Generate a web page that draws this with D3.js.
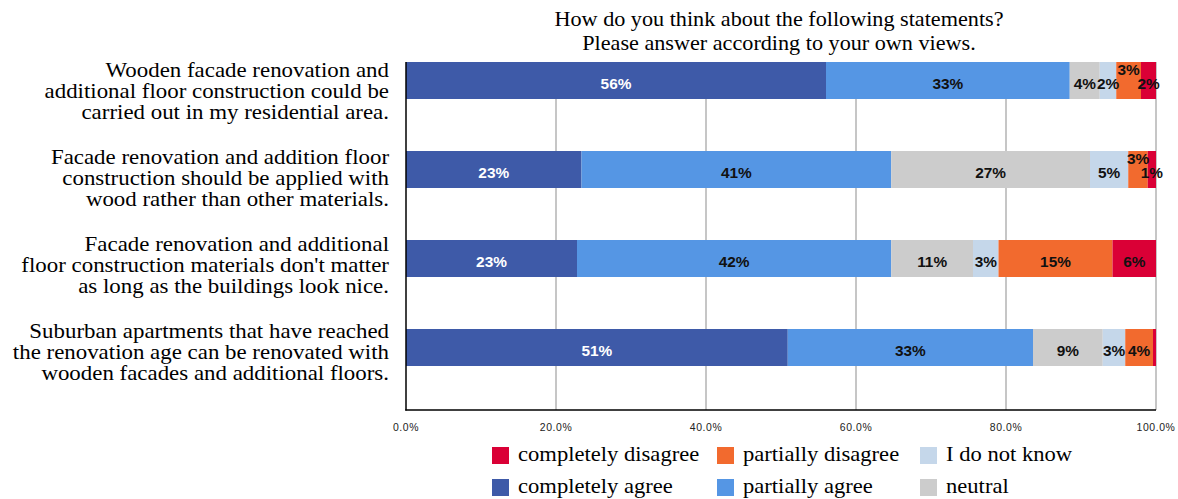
<!DOCTYPE html>
<html><head><meta charset="utf-8">
<script src="https://cdn.jsdelivr.net/npm/d3@7"></script>
<style>
html,body{margin:0;padding:0;background:#fff;}
svg{display:block;}
</style></head>
<body>
<svg id="chart" width="1178" height="499"></svg>
<script>
const titleLines = ["How do you think about the following statements?", "Please answer according to your own views."];
const categories = [
  ["Wooden facade renovation and", "additional floor construction could be", "carried out in my residential area."],
  ["Facade renovation and addition floor", "construction should be applied with", "wood rather than other materials."],
  ["Facade renovation and additional", "floor construction materials don't matter", "as long as the buildings look nice."],
  ["Suburban apartments that have reached", "the renovation age can be renovated with", "wooden facades and additional floors."]
];
const seriesNames = ["completely agree", "partially agree", "neutral", "I do not know", "partially disagree", "completely disagree"];
const completelyAgree   = [56.0, 23.4, 22.8, 50.9];
const partiallyAgree    = [32.5, 41.3, 41.9, 32.7];
const neutral           = [4.0, 26.5, 10.9, 9.3];
const doNotKnow         = [2.2, 5.1, 3.4, 3.0];
const partiallyDisagree = [3.3, 2.6, 15.2, 3.7];
const completelyDisagree= [2.0, 1.1, 5.8, 0.4];
const tickValues = [0, 20, 40, 60, 80, 100];
const tickLabels = ["0.0%", "20.0%", "40.0%", "60.0%", "80.0%", "100.0%"];

const seriesValues = [completelyAgree, partiallyAgree, neutral, doNotKnow, partiallyDisagree, completelyDisagree];
const colors = ["#3E5AA8", "#5596E4", "#CCCCCC", "#C5D7EA", "#F26A2E", "#DA0036"];
const labelColors = ["#ffffff", "#111111", "#111111", "#111111", "#111111", "#111111"];
const legendOrder = [5, 4, 3, 0, 1, 2];

const svg = d3.select("#chart");
const serif = "'Liberation Serif','Times New Roman',serif";
const sans = "'Liberation Sans',Arial,sans-serif";

const plotTop = 62, plotBottom = 410;
const x = d3.scaleLinear().domain([0, 100]).range([406, 1156]);
const idx = categories.map((d, i) => i);
const y = d3.scaleBand().domain(idx).range([62, 62 + 89 * 4]).paddingInner(0).paddingOuter(0);
const barH = 37;
const yLab = d3.scalePoint().domain(idx).range([91, 352]);

const table = idx.map(i => {
  const o = {i};
  seriesNames.forEach((s, k) => o[s] = seriesValues[k][i]);
  return o;
});
const stack = d3.stack().keys(seriesNames)(table);

// title
svg.append("g").selectAll("text").data(titleLines).join("text")
  .attr("transform", (d, i) => `translate(779,${26 + i * 24}) scale(1.11,1)`)
  .attr("text-anchor", "middle")
  .style("font-family", serif).style("font-size", "20px").attr("fill", "#000")
  .text(d => d);

// gridlines
svg.append("g").selectAll("line").data(tickValues.slice(1)).join("line")
  .attr("x1", d => x(d)).attr("x2", d => x(d))
  .attr("y1", plotTop).attr("y2", plotBottom)
  .attr("stroke", "#b3b3b3").attr("stroke-width", 1.5);

// bars
const layers = svg.append("g").selectAll("g").data(stack).join("g")
  .attr("fill", (d, k) => colors[k]);
layers.selectAll("rect").data(d => d).join("rect")
  .attr("x", d => x(d[0]))
  .attr("width", d => x(d[1]) - x(d[0]))
  .attr("y", d => y(d.data.i))
  .attr("height", barH);

// axis lines
svg.append("line").attr("x1", x(0)).attr("x2", x(0)).attr("y1", plotTop).attr("y2", plotBottom + 0.5)
  .attr("stroke", "#000").attr("stroke-width", 1.5);
svg.append("line").attr("x1", x(0) - 0.75).attr("x2", x(100)).attr("y1", plotBottom).attr("y2", plotBottom)
  .attr("stroke", "#000").attr("stroke-width", 1.5);

// tick labels
svg.append("g").selectAll("text").data(tickValues).join("text")
  .attr("transform", d => `translate(${x(d)},431) scale(0.95,1)`)
  .attr("text-anchor", "middle")
  .style("font-family", sans).style("font-size", "11px").style("letter-spacing", "0.6px")
  .attr("fill", "#222")
  .text((d, i) => tickLabels[i]);

// category labels
const catG = svg.append("g").selectAll("g").data(categories).join("g")
  .attr("transform", (d, i) => `translate(389,${yLab(i)}) scale(1.145,1)`);
catG.selectAll("text").data(d => d).join("text")
  .attr("x", 0).attr("y", (d, j, arr) => (j - (arr.length - 1) / 2) * 21.5 + 7)
  .attr("text-anchor", "end")
  .style("font-family", serif).style("font-size", "20px").attr("fill", "#000")
  .text(d => d);

// value labels with simple collision handling
const labels = [];
idx.forEach(i => {
  const row = [];
  stack.forEach((layer, k) => {
    const d = layer[i];
    const v = d[1] - d[0];
    if (v >= 1) row.push({k, v, cx: (x(d[0]) + x(d[1])) / 2, cy: y(i) + barH / 2 + 8.5});
  });
  let lastNormal = null;
  for (let j = row.length - 1; j >= 0; j--) {
    const L = row[j];
    if (lastNormal && lastNormal.cx - L.cx < 22) { L.cy -= 14; }
    else lastNormal = L;
  }
  labels.push(...row);
});
svg.append("g").selectAll("text").data(labels).join("text")
  .attr("transform", d => `translate(${d.cx},${d.cy}) scale(1.1,1)`)
  .attr("text-anchor", "middle")
  .style("font-family", sans).style("font-size", "14px").style("font-weight", "bold")
  .attr("fill", d => labelColors[d.k])
  .text(d => Math.round(d.v) + "%");

// legend
const legCols = [492, 717, 920];
const legRows = [447, 479];
const leg = svg.append("g").selectAll("g").data(legendOrder).join("g")
  .attr("transform", (k, p) => `translate(${legCols[p % 3]},${legRows[Math.floor(p / 3)]})`);
leg.append("rect").attr("width", 17).attr("height", 17).attr("fill", k => colors[k]);
leg.append("text")
  .attr("transform", `translate(26,14) scale(1.13,1)`)
  .style("font-family", serif).style("font-size", "20px").attr("fill", "#000")
  .text(k => seriesNames[k]);
</script>
</body></html>
